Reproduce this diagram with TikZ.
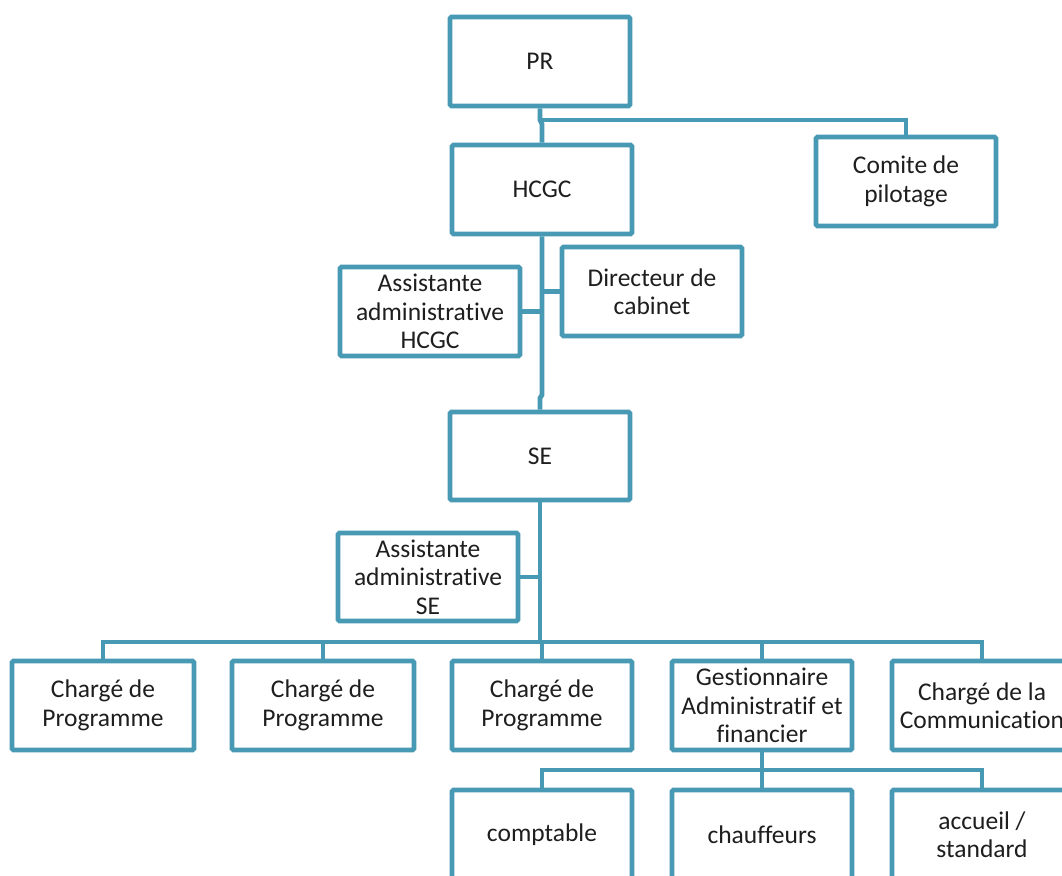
\documentclass[tikz,border=0pt]{standalone}
\usepackage{fontspec}
\setmainfont{Carlito}[Ligatures=NoCommon]
\definecolor{orgline}{RGB}{72,154,180}
\definecolor{orgtext}{RGB}{30,30,30}
\begin{document}
\begin{tikzpicture}[x=1pt,y=-1pt,
  unit/.style={draw=orgline, line width=4.8pt, rounded corners=1.5pt, fill=white,
    minimum width=180pt, minimum height=89pt, inner sep=0pt,
    align=center, text=orgtext,
    font=\fontsize{25.5}{28.5}\selectfont},
  wide/.style={unit, minimum width=182pt},
  link/.style={draw=orgline, line width=4.8pt}]
\useasboundingbox (0,0) rectangle (1062,875);
\clip (0,0) rectangle (1062,875);

% top of the chart
\node[unit] (pr)   at (540,61.5)  {PR};
\node[unit] (hcgc) at (542,189.5) {HCGC};
\node[unit] (cp)   at (906,181.5) {Comite de\\pilotage};
\node[unit] (ah)   at (430,311.5) {Assistante\\administrative\\HCGC};
\node[unit] (dc)   at (652,291.5) {Directeur de\\cabinet};
\node[unit, minimum height=88pt] (se) at (540,456) {SE};
\node[unit, minimum height=88pt] (as) at (428,577) {Assistante\\administrative\\SE};

% programme level
\node[wide] (c1) at (103,705.5) {Chargé de\\Programme};
\node[wide] (c2) at (323,705.5) {Chargé de\\Programme};
\node[unit] (c3) at (542,705.5) {Chargé de\\Programme};
\node[unit] (ga) at (762,705.5) {Gestionnaire\\Administratif et\\financier};
\node[unit] (cc) at (982,705.5) {Chargé de la\\Communication};

% support staff
\node[unit] (co) at (542,834.5) {comptable};
\node[unit] (ch) at (762,834.5) {chauffeurs};
\node[unit] (ac) at (982,834.5) {accueil /\\standard};

% junction points
\coordinate (j1) at (540,120);
\coordinate (j2) at (542,395);
\coordinate (bus) at (540,642);
\coordinate (low) at (762,770);

% PR to HCGC and steering committee
\draw[link] (pr.south -| j1) -- (j1) -- (542,124) -- (hcgc.north);
\draw[link] (j1) -| (cp.north);

% HCGC to SE, with its two staff posts
\draw[link] (hcgc.south) -- (j2) -- (540,398) -- (se.north -| j1);
\draw[link] (ah.east) -- (ah.east -| hcgc.south);
\draw[link] (dc.west) -- (dc.west -| hcgc.south);

% SE to its assistant and the programme bus
\draw[link] (se.south) -- (bus);
\draw[link] (as.east) -- (as.east -| se.south);
\draw[link] (c1.north) |- (bus) -| (cc.north);
\draw[link] (c2.north) -- (c2.north |- bus);
\draw[link] (c3.north) -- (c3.north |- bus);
\draw[link] (ga.north) -- (ga.north |- bus);

% administrative manager to support staff
\draw[link] (ga.south) -- (low);
\draw[link] (co.north) |- (low) -| (ac.north);
\draw[link] (ch.north) -- (low);
\end{tikzpicture}
\end{document}
